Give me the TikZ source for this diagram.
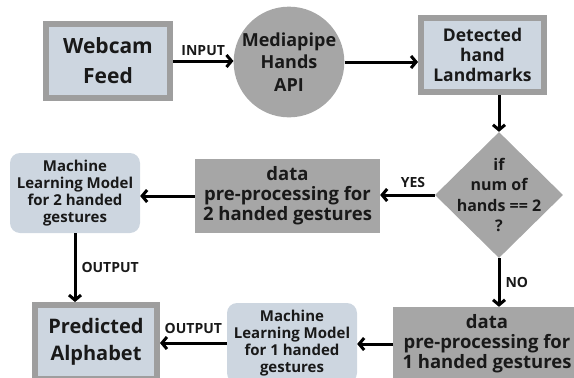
\documentclass[tikz,border=0pt]{standalone}
\usepackage{fontspec}
\setmainfont{Open Sans}
\usetikzlibrary{shapes.geometric,arrows.meta}
\definecolor{panelblue}{RGB}{205,214,224}
\definecolor{framegray}{RGB}{158,158,158}
\definecolor{stepgray}{RGB}{166,166,166}

\begin{document}
\begin{tikzpicture}[x=1pt, y=-1pt,
    every node/.style={inner sep=0pt, align=center, text=black!90, font=\bfseries},
    framebox/.style={draw=framegray, line width=6pt, fill=panelblue, minimum width=124pt, minimum height=74pt},
    graybox/.style={fill=stepgray, minimum width=185pt, minimum height=74pt},
    modelbox/.style={fill=panelblue, rounded corners=10pt, minimum width=130pt, minimum height=80pt},
    arr/.style={line width=3pt, -{Straight Barb[length=5pt,width=12pt]}},
    lbl/.style={font=\bfseries\fontsize{14}{14}\selectfont}]
    \useasboundingbox (0,0) rectangle (574,378);
    \clip (0,0) rectangle (574,378);
    % top row
    \node[framebox, font=\bfseries\fontsize{21}{30}\selectfont] (feed) at (108,61) {Webcam\\Feed};
    \node[circle, fill=stepgray, minimum size=106pt, font=\bfseries\fontsize{18}{22.5}\selectfont] (api) at (289,62) {Mediapipe\\Hands\\API};
    \node[framebox, minimum width=123pt, font=\bfseries\fontsize{17.5}{20}\selectfont] (marks) at (482.5,55) {Detected\\hand\\Landmarks};
    % decision
    \node[diamond, fill=stepgray, minimum width=128pt, minimum height=126pt] (check) at (499,195) {};
    \node[font=\bfseries\fontsize{16}{20.5}\selectfont] (question) at (check) {if\\num of\\hands == 2\\?};
    % two hands
    \node[graybox, font=\bfseries\fontsize{18.5}{20}\selectfont] (prep2) at (287.5,196) {data\\pre-processing for\\2 handed gestures};
    \node[modelbox, font=\bfseries\fontsize{15}{17}\selectfont] (ml2) at (75,193) {Machine\\Learning Model\\for 2 handed\\gestures};
    % one hand
    \node[graybox, minimum width=188pt, font=\bfseries\fontsize{18.5}{20}\selectfont] (prep1) at (487,344) {data\\pre-processing for\\1 handed gestures};
    \node[modelbox, font=\bfseries\fontsize{15}{17}\selectfont] (ml1) at (292,343) {Machine\\Learning Model\\for 1 handed\\gestures};
    \node[framebox, minimum width=122pt, font=\bfseries\fontsize{20}{27}\selectfont] (pred) at (96,342) {Predicted\\Alphabet};
    % arrows
    \draw[arr] (feed) -- (feed -| api.west) node[lbl, midway, above=4pt] (inlbl) {INPUT};
    \draw[arr] (api) -- (api -| marks.west);
    \draw[arr] (marks.south -| check) -- (check);
    \draw[arr] (check) -- (check -| prep2.east) node[lbl, pos=0.4, above=6pt] (yes) {YES};
    \draw[arr] (prep2) -- (prep2 -| ml2.east);
    \draw[arr] (ml2) -- (ml2 |- pred.north) node[lbl, midway, right=5pt] (out2) {OUTPUT};
    \draw[arr] (ml1) -- (ml1 -| pred.east) node[lbl, midway, above=8pt] (out1) {OUTPUT};
    \draw[arr] (prep1) -- (prep1 -| ml1.east);
    \draw[arr] (check) -- (check |- prep1.north) node[lbl, midway, right=5pt] (no) {NO};
\end{tikzpicture}
\end{document}
